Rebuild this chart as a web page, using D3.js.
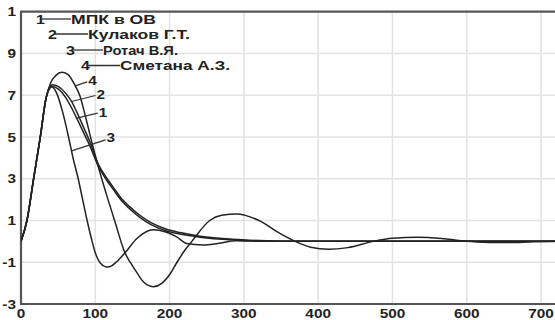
<!DOCTYPE html>
<html><head><meta charset="utf-8">
<script src="https://cdn.jsdelivr.net/npm/d3@7"></script>
<style>
html,body{margin:0;padding:0;background:#fff;overflow:hidden}
svg{display:block}
text{font-family:"Liberation Sans",Arial,sans-serif;fill:#222}
</style></head>
<body><svg id="c" width="555" height="320"></svg>
<script>
// ---- data ----
const xTicks = [0,100,200,300,400,500,600,700];
const xTickLabels = ["0","100","200","300","400","500","600","700"];
const yTicks = [-3,-1,1,3,5,7,9,11];
const yTickLabels = ["-3","-1","1","3","5","7","9","1"];
const seriesNames = ["МПК в ОВ","Кулаков Г.Т.","Ротач В.Я.","Сметана А.З."];
const seriesIds = ["1","2","3","4"];

const x1 = [0,8,17,26,34,42,50,60,68,75,85,93,104,115,124,133,145,160,175,196,214,241,285,320,360,719];
const y1 = [0,1,3,5,6.9,7.42,7.3,6.9,6.4,5.9,5.15,4.55,3.6,2.95,2.5,2.05,1.6,1.15,0.8,0.5,0.35,0.2,0.07,0.02,0,0];
const x2 = [0,8,17,26,34,42,50,60,68,75,85,93,104,115,124,133,145,160,175,196,214,241,285,320,360,719];
const y2 = [0,1,3,5,6.9,7.5,7.42,7.1,6.7,6.2,5.4,4.75,3.7,3.05,2.6,2.15,1.7,1.25,0.9,0.58,0.42,0.25,0.1,0.04,0.01,0];
const x3 = [0,8,17,26,34,41,48,56,64,70,77,83,89,95,100,105,110,116,122,128,140,156,178,195,209,223,245,265,290,330,719];
const y3 = [0,1,3,5,6.9,7.4,7.1,6.2,5.0,4.0,3.0,2.0,1.0,0.1,-0.55,-0.95,-1.15,-1.23,-1.17,-1.0,-0.55,0.14,0.56,0.45,0.23,-0.1,-0.17,-0.1,0.03,0,0];
const x4 = [0,8,17,26,34,40,47,55,63,73,79,87,95,104,115,126,140,147,156,165,178,190,200,210,220,230,254,270,292,310,322,345,369,390,414,440,474,500,535,570,600,630,654,690,719];
const y4 = [0,1,3,5,6.9,7.6,7.95,8.1,8.0,7.45,7.0,5.95,4.8,3.58,2.25,1.0,-0.55,-1.0,-1.5,-1.95,-2.17,-2.0,-1.6,-1.0,-0.45,0,1.0,1.25,1.31,1.15,0.97,0.45,0,-0.28,-0.38,-0.3,0,0.15,0.2,0.12,0,-0.05,-0.06,-0.02,0];
const labelAt = [75,68,68,73]; // x value on each curve where its number label attaches

// ---- layout ----
const svg = d3.select("#c");
const x = d3.scaleLinear().domain([0,700]).range([21,541]);
const y = d3.scaleLinear().domain([-3,11]).range([304,11.7]);

const series = [[x1,y1],[x2,y2],[x3,y3],[x4,y4]].map(([xs,ys])=>xs.map((v,i)=>[v,ys[i]]));

// grid
const g = svg.append("g");
g.selectAll("line.gx").data(xTicks.filter(d=>d>0)).join("line")
  .attr("x1",d=>x(d)).attr("x2",d=>x(d)).attr("y1",y(11)).attr("y2",y(-3))
  .attr("stroke","#e3e3e3").attr("stroke-width",1.6);
g.selectAll("line.gy").data(yTicks.filter(d=>d>-3&&d<11)).join("line")
  .attr("x1",x(0)).attr("x2",555).attr("y1",d=>y(d)).attr("y2",d=>y(d))
  .attr("stroke","#e3e3e3").attr("stroke-width",1.6);

// axes frame
svg.append("line").attr("x1",x(0)).attr("x2",555).attr("y1",y(11)).attr("y2",y(11)).attr("stroke","#555").attr("stroke-width",2.2);
svg.append("line").attr("x1",x(0)).attr("x2",555).attr("y1",y(-3)).attr("y2",y(-3)).attr("stroke","#555").attr("stroke-width",2.2);
svg.append("line").attr("x1",x(0)).attr("x2",x(0)).attr("y1",y(11)-1).attr("y2",y(-3)+1).attr("stroke","#555").attr("stroke-width",2.2);

// tick labels
const fs = 13, sx = 1.18;
svg.selectAll("text.yl").data(yTicks).join("text")
  .attr("transform",d=>`translate(16,${y(d)}) scale(${sx},1)`)
  .attr("text-anchor","end").attr("dy","0.36em")
  .attr("font-size",fs).attr("font-weight","bold")
  .text((d,i)=>yTickLabels[i]);
svg.selectAll("text.xl").data(xTicks).join("text")
  .attr("transform",d=>`translate(${x(d)},318) scale(${sx},1)`)
  .attr("text-anchor","middle")
  .attr("font-size",fs).attr("font-weight","bold")
  .text((d,i)=>xTickLabels[i]);

// curves
svg.append("clipPath").attr("id","pc").append("rect")
  .attr("x",x(0)).attr("y",0).attr("width",555-x(0)).attr("height",320);
const line = d3.line().x(d=>x(d[0])).y(d=>y(d[1])).curve(d3.curveMonotoneX);
svg.append("g").attr("clip-path","url(#pc)").selectAll("path").data(series).join("path")
  .attr("d",line).attr("fill","none").attr("stroke","#222").attr("stroke-width",1.5)
  .attr("stroke-linejoin","round");

// curve number labels with leaders
function valueAt(s, v){
  const xs = s.map(d=>d[0]);
  const i = d3.bisectLeft(xs, v);
  if (xs[i]===v) return s[i][1];
  const a=s[i-1], b=s[i];
  return a[1]+(b[1]-a[1])*(v-a[0])/(b[0]-a[0]);
}
const leaderOff = [[21,-5],[24,-6],[34,-11],[12,-4]];
const labelLift = [-1,-1,-3,-2];
series.forEach((s,k)=>{
  const px = x(labelAt[k]), py = y(valueAt(s,labelAt[k]));
  const [dx,dy] = leaderOff[k];
  svg.append("line").attr("x1",px).attr("y1",py).attr("x2",px+dx).attr("y2",py+dy)
    .attr("stroke","#333").attr("stroke-width",1.2);
  svg.append("text").attr("transform",`translate(${px+dx+1},${py+dy+labelLift[k]}) scale(${sx},1)`)
    .attr("dy","0.36em").attr("font-size",fs).attr("font-weight","bold").text(seriesIds[k]);
});

// legend
const legX = [36,48,66,81];
const legY = [19,34,50,65.5];
const legLine = [29,34,31,33];
const legTextW = [85,102,75,110];
seriesNames.forEach((name,k)=>{
  const gx = legX[k], gy = legY[k];
  svg.append("text").attr("transform",`translate(${gx},${gy}) scale(${sx},1)`)
    .attr("dy","0.36em").attr("font-size",fs+0.5).attr("font-weight","bold").text(seriesIds[k]);
  svg.append("line").attr("x1",gx+6).attr("x2",gx+6+legLine[k]).attr("y1",gy).attr("y2",gy)
    .attr("stroke","#333").attr("stroke-width",1.3);
  svg.append("text").attr("x",gx+6+legLine[k]).attr("y",gy)
    .attr("dy","0.36em").attr("font-size",fs+0.5).attr("font-weight","bold")
    .attr("textLength",legTextW[k]).attr("lengthAdjust","spacingAndGlyphs").text(name);
});
</script></body></html>
